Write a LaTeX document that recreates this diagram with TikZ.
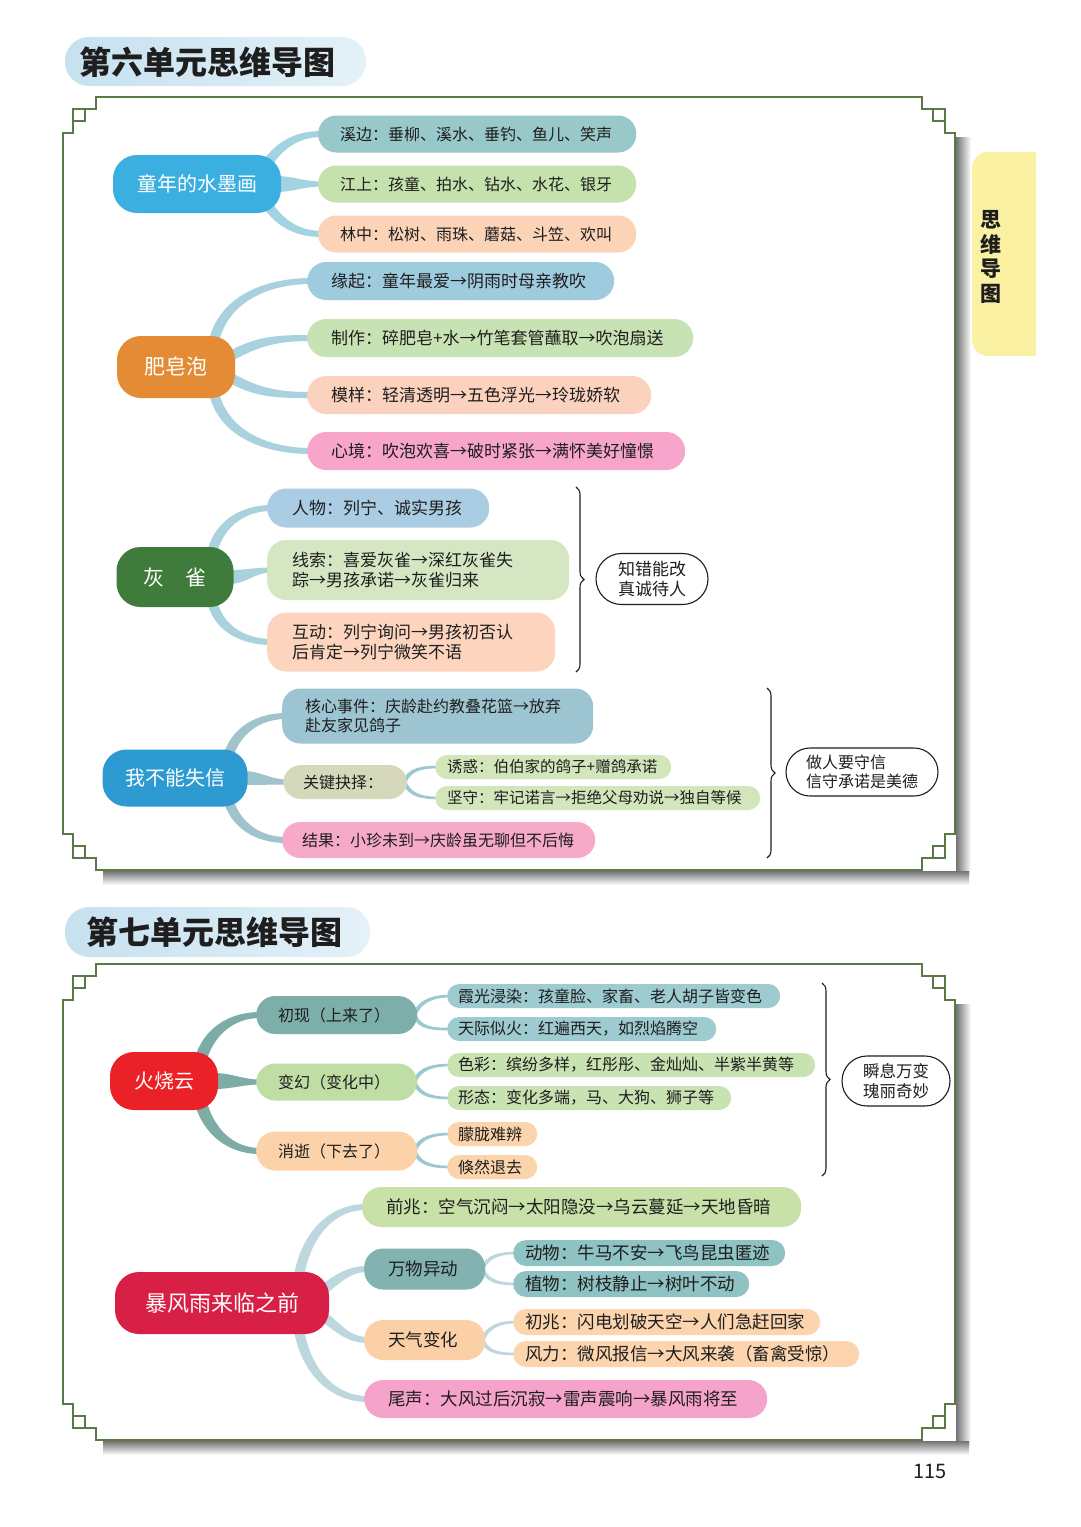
\documentclass[tikz,border=0pt]{standalone}
\usepackage{fontspec}
\setmainfont{Noto Sans CJK SC}
\usetikzlibrary{calc,shapes.misc,decorations.pathreplacing}
\pgfdeclarelayer{back}
\pgfdeclarelayer{bg}
\pgfsetlayers{back,bg,main}
% colours
\definecolor{ttlA}{HTML}{C6E1EF}\definecolor{ttlB}{HTML}{E4F1F8}
\definecolor{tabY}{HTML}{FBF1A3}
\definecolor{frm}{HTML}{5A7A45}
\definecolor{ink}{HTML}{1E1E1E}
\definecolor{rootA}{HTML}{3AAFE0}\definecolor{lA1}{HTML}{98C8CA}\definecolor{lA2}{HTML}{C5E2AD}\definecolor{lA3}{HTML}{FBD3B6}
\definecolor{rootB}{HTML}{E38B35}\definecolor{lB1}{HTML}{9FCBDF}\definecolor{lB2}{HTML}{C8E3B3}\definecolor{lB3}{HTML}{FAD2BE}\definecolor{lB4}{HTML}{F7A5CB}
\definecolor{rootC}{HTML}{3F7B3A}\definecolor{lC1}{HTML}{AACDE4}\definecolor{lC2}{HTML}{D4E6C2}\definecolor{lC3}{HTML}{FDD5BF}
\definecolor{rootD}{HTML}{2E9AD2}\definecolor{lD1}{HTML}{9DC4D1}\definecolor{lD2}{HTML}{D5D8BA}\definecolor{lDs}{HTML}{D3E6BB}\definecolor{lD3}{HTML}{F6AAC8}
\definecolor{rootE}{HTML}{EA2227}\definecolor{mE1}{HTML}{7EAEAA}\definecolor{mE2}{HTML}{BFDEA5}\definecolor{mE3}{HTML}{FBD2A9}
\definecolor{sE1}{HTML}{9ECBD0}\definecolor{sE2}{HTML}{C8E2B2}\definecolor{sE3}{HTML}{FCD4AC}
\definecolor{rootF}{HTML}{D81F45}\definecolor{lF1}{HTML}{C7E1A8}\definecolor{mF2}{HTML}{82B3B1}\definecolor{sF2}{HTML}{8FC2C3}
\definecolor{mF3}{HTML}{FCD0A7}\definecolor{sF3}{HTML}{FCD4AE}\definecolor{lF4}{HTML}{F5A3CA}
\definecolor{twA}{HTML}{A3D3E0}\definecolor{twB}{HTML}{A9D1DE}\definecolor{twC}{HTML}{A9D2DC}\definecolor{twD}{HTML}{9FC4CB}
\definecolor{twE}{HTML}{7DABA6}\definecolor{twEs}{HTML}{9CC8D0}\definecolor{twF}{HTML}{BDD7DF}
% tapered branch: [colour]{start}{end}{out angle}{half width at start}{half width at end}
\newcommand\twig[6][]{%
  \fill[#1] ($(#2)+({#4+90}:#5)$) to[out=#4,in=180] ($(#3)+(4,#6)$) -- ($(#3)+(4,-#6)$) to[out=180,in=#4] ($(#2)+({#4-90}:#5)$) -- cycle;}
\newcommand\mmcorner{%
  \draw[frameline] (-46,0) -- (-33,0) |- (-22,-12) |- (-10,-24) |- (0,-36) -- (0,-46);
  \draw[frameline] (-22,-12) rectangle (-10,-24);}
\newcommand\mmframe[4]{% L R T B
  \shade[left color=black!55, right color=white] (#2+1,#3-40) rectangle (#2+16,#4-4);
  \shade[top color=black!55, bottom color=white] (#1+40,#4-1) rectangle (#2+14,#4-15);
  \draw[frameline] (#1+46,#3) -- (#2-46,#3);
  \draw[frameline] (#2,#3-46) -- (#2,#4+46);
  \draw[frameline] (#1+46,#4) -- (#2-46,#4);
  \draw[frameline] (#1,#3-46) -- (#1,#4+46);
  \begin{scope}[shift={(#2,#3)}]\mmcorner\end{scope}
  \begin{scope}[shift={(#1,#3)},xscale=-1]\mmcorner\end{scope}
  \begin{scope}[shift={(#2,#4)},yscale=-1]\mmcorner\end{scope}
  \begin{scope}[shift={(#1,#4)},xscale=-1,yscale=-1]\mmcorner\end{scope}}
\tikzset{
  frameline/.style={draw=frm, line width=1.8pt},
  mmroot/.style={rectangle, rounded corners=24pt, text=white, inner sep=0pt},
  mmleaf/.style={rectangle, anchor=west, align=left, inner ysep=0pt, text=ink},
  gA/.style={mmleaf, font=\fontsize{16}{20}\selectfont, inner xsep=22pt, minimum height=37pt, rounded corners=18pt},
  gB/.style={mmleaf, font=\fontsize{17}{20}\selectfont, inner xsep=24pt, minimum height=38pt, rounded corners=19pt},
  gC/.style={mmleaf, font=\fontsize{17}{20}\selectfont, inner xsep=25pt, rounded corners=19pt},
  gD/.style={mmleaf, font=\fontsize{16}{19}\selectfont, inner xsep=23pt, rounded corners=18pt},
  gDs/.style={mmleaf, font=\fontsize{15.5}{18}\selectfont, inner xsep=12pt, minimum height=24pt, rounded corners=12pt},
  gEm/.style={mmleaf, font=\fontsize{16}{19}\selectfont, inner xsep=22pt, rounded corners=19pt},
  gEs/.style={mmleaf, font=\fontsize{16}{19}\selectfont, inner xsep=11pt, minimum height=24pt, rounded corners=12pt},
  gF/.style={mmleaf, font=\fontsize{17.5}{21}\selectfont, inner xsep=24pt, rounded corners=19pt},
  gFs/.style={mmleaf, font=\fontsize{17.5}{21}\selectfont, inner xsep=12pt, minimum height=26pt, rounded corners=13pt},
  summ/.style={rounded rectangle, draw=ink, line width=1.1pt, fill=white, align=left, inner sep=0pt, text=ink},
  bracest/.style={draw=ink, line width=1.1pt, decorate, decoration={brace, amplitude=8pt}},
  ttl/.style={font=\fontsize{32}{32}\selectfont\bfseries, inner sep=0pt, anchor=west, text=ink},
}
\begin{document}
\begin{tikzpicture}[x=1pt,y=1pt]
\useasboundingbox (0,0) rectangle (1080,-1527);
\begin{pgfonlayer}{back}
\fill[white] (0,0) rectangle (1080,-1527);
\mmframe{63}{955}{-97}{-870}
\mmframe{63}{955}{-964}{-1440}
\end{pgfonlayer}

% titles
\shade[left color=ttlA, right color=ttlB, rounded corners=24pt] (65,-37) rectangle (366,-86);
\node[ttl] (t1) at (79,-62) {第六单元思维导图};
\shade[left color=ttlA, right color=ttlB, rounded corners=24pt] (65,-907) rectangle (370,-957);
\node[ttl] (t2) at (86,-932) {第七单元思维导图};

% side tab
\fill[tabY, rounded corners=16pt] (972,-152) rectangle (1036,-356);
\fill[tabY] (1010,-152) rectangle (1036,-356);
\node[font=\fontsize{21}{24.5}\selectfont\bfseries, align=center, text=ink, inner sep=0pt] (tab) at (991,-257) {思\\维\\导\\图};

% page number
\node[font=\fontsize{20}{20}\selectfont, text=ink, inner sep=0pt] (pg) at (930,-1471) {115};

% ===== Unit 6 =====
\node[mmroot, fill=rootA, minimum width=168pt, minimum height=58pt, font=\fontsize{20}{20}\selectfont] (r1) at (197,-184) {童年的水墨画};
\node[gA, fill=lA1, text width=274pt] (c11) at (318,-134) {溪边：垂柳、溪水、垂钓、鱼儿、笑声};
\node[gA, fill=lA2, text width=274pt] (c12) at (318,-184) {江上：孩童、拍水、钻水、水花、银牙};
\node[gA, fill=lA3, text width=274pt] (c13) at (318,-234) {林中：松树、雨珠、蘑菇、斗笠、欢叫};

\node[mmroot, fill=rootB, minimum width=118pt, minimum height=62pt, font=\fontsize{21}{21}\selectfont] (r2) at (176,-367) {肥皂泡};
\node[gB, fill=lB1, text width=259pt] (c21) at (307,-281) {缘起：童年最爱→阴雨时母亲教吹};
\node[gB, fill=lB2, text width=338pt] (c22) at (307,-338) {制作：碎肥皂+水→竹笔套管蘸取→吹泡扇送};
\node[gB, fill=lB3, text width=296pt] (c23) at (307,-395) {模样：轻清透明→五色浮光→玲珑娇软};
\node[gB, fill=lB4, text width=330pt] (c24) at (307,-451) {心境：吹泡欢喜→破时紧张→满怀美好憧憬};

\node[mmroot, fill=rootC, minimum width=117pt, minimum height=60pt, font=\fontsize{21}{21}\selectfont] (r3) at (175,-577) {灰　雀};
\node[gC, fill=lC1, text width=172pt, minimum height=39pt] (c31) at (267,-508) {人物：列宁、诚实男孩};
\node[gC, fill=lC2, text width=252pt, minimum height=60pt] (c32) at (267,-570) {线索：喜爱灰雀→深红灰雀失\\踪→男孩承诺→灰雀归来};
\node[gC, fill=lC3, text width=238pt, minimum height=59pt] (c33) at (267,-642) {互动：列宁询问→男孩初否认\\后肯定→列宁微笑不语};
\node[summ, minimum width=112pt, minimum height=51pt, font=\fontsize{17}{20}\selectfont] (s1) at (652,-579) {知错能改\\真诚待人};
\coordinate (b1t) at (576,-487);
\coordinate (b1b) at (576,-672);
\draw[bracest] (b1t) -- (b1b);

\node[mmroot, fill=rootD, minimum width=145pt, minimum height=57pt, font=\fontsize{20}{20}\selectfont] (r4) at (175,-778) {我不能失信};
\node[gD, fill=lD1, text width=265pt, minimum height=55pt] (c41) at (282,-716) {核心事件：庆龄赴约教叠花篮→放弃\\赴友家见鸽子};
\node[gD, fill=lD2, text width=84pt, minimum height=34pt, inner xsep=20pt] (c42) at (283,-782) {关键抉择：};
\node[gD, fill=lD3, text width=273pt, minimum height=36pt, inner xsep=20pt] (c43) at (282,-840) {结果：小珍未到→庆龄虽无聊但不后悔};
\node[gDs, fill=lDs, text width=212pt] (s41) at (435,-767) {诱惑：伯伯家的鸽子+赠鸽承诺};
\node[gDs, fill=lDs, text width=301pt] (s42) at (435,-798) {坚守：牢记诺言→拒绝父母劝说→独自等候};
\node[summ, minimum width=152pt, minimum height=48pt, font=\fontsize{16}{19}\selectfont] (s2) at (862,-772) {做人要守信\\信守承诺是美德};
\coordinate (b2t) at (767,-688);
\coordinate (b2b) at (767,-858);
\draw[bracest] (b2t) -- (b2b);

% ===== Unit 7 =====
\node[mmroot, fill=rootE, minimum width=108pt, minimum height=58pt, font=\fontsize{20}{20}\selectfont] (r5) at (164,-1081) {火烧云};
\node[gEm, fill=mE1, text width=117pt, minimum height=38pt] (m51) at (256,-1015) {初现（上来了）};
\node[gEm, fill=mE2, text width=117pt, minimum height=37pt] (m52) at (256,-1082) {变幻（变化中）};
\node[gEm, fill=mE3, text width=117pt, minimum height=39pt] (m53) at (256,-1151) {消逝（下去了）};
\node[gEs, fill=sE1, text width=311pt] (s511) at (447,-996) {霞光浸染：孩童脸、家畜、老人胡子皆变色};
\node[gEs, fill=sE1, text width=247pt] (s512) at (447,-1029) {天际似火：红遍西天，如烈焰腾空};
\node[gEs, fill=sE2, text width=346pt] (s521) at (447,-1065) {色彩：缤纷多样，红彤彤、金灿灿、半紫半黄等};
\node[gEs, fill=sE2, text width=262pt] (s522) at (447,-1098) {形态：变化多端，马、大狗、狮子等};
\node[gEs, fill=sE3, text width=68pt] (s531) at (447,-1134) {朦胧难辨};
\node[gEs, fill=sE3, text width=68pt] (s532) at (447,-1167) {倏然退去};
\node[summ, minimum width=108pt, minimum height=50pt, font=\fontsize{16.5}{20}\selectfont] (s3) at (896,-1081) {瞬息万变\\瑰丽奇妙};
\coordinate (b3t) at (822,-983);
\coordinate (b3b) at (822,-1176);
\draw[bracest] (b3t) -- (b3b);

\node[mmroot, fill=rootF, minimum width=214pt, minimum height=62pt, font=\fontsize{22}{22}\selectfont] (r6) at (222,-1303) {暴风雨来临之前};
\node[gF, fill=lF1, text width=391pt, minimum height=40pt] (c61) at (362,-1207) {前兆：空气沉闷→太阳隐没→乌云蔓延→天地昏暗};
\node[gF, fill=mF2, text width=73pt, minimum height=41pt] (m62) at (364,-1269) {万物异动};
\node[gF, fill=mF3, text width=73pt, minimum height=40pt] (m63) at (364,-1340) {天气变化};
\node[gF, fill=lF4, text width=355pt, minimum height=38pt] (c64) at (364,-1399) {尾声：大风过后沉寂→雷声震响→暴风雨将至};
\node[gFs, fill=sF2, text width=248pt] (s621) at (513,-1253) {动物：牛马不安→飞鸟昆虫匿迹};
\node[gFs, fill=sF2, text width=212pt] (s622) at (513,-1284) {植物：树枝静止→树叶不动};
\node[gFs, fill=sF3, text width=283pt] (s631) at (513,-1322) {初兆：闪电划破天空→人们急赶回家};
\node[gFs, fill=sF3, text width=322pt] (s632) at (513,-1354) {风力：微风报信→大风来袭（畜禽受惊）};

% ===== branches =====
\begin{pgfonlayer}{bg}
\coordinate (r1a) at ($(r1.east)+(-18,14)$);
\coordinate (r1b) at ($(r1.east)+(-6,0)$);
\coordinate (r1c) at ($(r1.east)+(-18,-14)$);
\twig[twA]{r1a}{c11.west}{60}{5}{3}
\twig[twA]{r1b}{c12.west}{0}{8}{2.5}
\twig[twA]{r1c}{c13.west}{-60}{5}{3}

\coordinate (r2a) at ($(r2.east)+(-22,22)$);
\coordinate (r2b) at ($(r2.east)+(-6,10)$);
\coordinate (r2c) at ($(r2.east)+(-6,-10)$);
\coordinate (r2d) at ($(r2.east)+(-22,-22)$);
\twig[twB]{r2a}{c21.west}{80}{5}{3}
\twig[twB]{r2b}{c22.west}{30}{5}{3}
\twig[twB]{r2c}{c23.west}{-30}{5}{3}
\twig[twB]{r2d}{c24.west}{-80}{5}{3}

\coordinate (r3a) at ($(r3.east)+(-22,22)$);
\coordinate (r3b) at ($(r3.east)+(-4,0)$);
\coordinate (r3c) at ($(r3.east)+(-22,-22)$);
\twig[twC]{r3a}{c31.west}{80}{5}{3}
\twig[twC]{r3b}{c32.west}{0}{7}{2.5}
\twig[twC]{r3c}{c33.west}{-80}{5}{3}

\coordinate (r4a) at ($(r4.east)+(-20,20)$);
\coordinate (r4b) at ($(r4.east)+(-4,0)$);
\coordinate (r4c) at ($(r4.east)+(-20,-20)$);
\twig[twD]{r4a}{c41.west}{75}{5}{3}
\twig[twD]{r4b}{c42.west}{0}{7}{2.5}
\twig[twD]{r4c}{c43.west}{-75}{5}{3}
\coordinate (c42e) at ($(c42.east)+(-3,0)$);
\twig[twEs]{c42e}{s41.west}{70}{2}{1.3}
\twig[twEs]{c42e}{s42.west}{-70}{2}{1.3}

\coordinate (r5a) at ($(r5.east)+(-18,20)$);
\coordinate (r5b) at ($(r5.east)+(-4,0)$);
\coordinate (r5c) at ($(r5.east)+(-18,-20)$);
\twig[twE]{r5a}{m51.west}{75}{6}{3}
\twig[twE]{r5b}{m52.west}{0}{8}{2.5}
\twig[twE]{r5c}{m53.west}{-75}{6}{3}
\coordinate (m51e) at ($(m51.east)+(-3,0)$);
\coordinate (m52e) at ($(m52.east)+(-3,0)$);
\coordinate (m53e) at ($(m53.east)+(-3,0)$);
\twig[twEs]{m51e}{s511.west}{70}{2}{1.3}
\twig[twEs]{m51e}{s512.west}{-70}{2}{1.3}
\twig[twEs]{m52e}{s521.west}{70}{2}{1.3}
\twig[twEs]{m52e}{s522.west}{-70}{2}{1.3}
\twig[twEs]{m53e}{s531.west}{70}{2}{1.3}
\twig[twEs]{m53e}{s532.west}{-70}{2}{1.3}

\coordinate (r6a) at ($(r6.east)+(-30,28)$);
\coordinate (r6b) at ($(r6.east)+(-8,12)$);
\coordinate (r6c) at ($(r6.east)+(-8,-12)$);
\coordinate (r6d) at ($(r6.east)+(-30,-28)$);
\twig[twF]{r6a}{c61.west}{80}{5}{3}
\twig[twF]{r6b}{m62.west}{35}{5}{3}
\twig[twF]{r6c}{m63.west}{-35}{5}{3}
\twig[twF]{r6d}{c64.west}{-80}{5}{3}
\coordinate (m62e) at ($(m62.east)+(-3,0)$);
\coordinate (m63e) at ($(m63.east)+(-3,0)$);
\twig[twF]{m62e}{s621.west}{70}{2}{1.3}
\twig[twF]{m62e}{s622.west}{-70}{2}{1.3}
\twig[twF]{m63e}{s631.west}{70}{2}{1.3}
\twig[twF]{m63e}{s632.west}{-70}{2}{1.3}
\end{pgfonlayer}
\end{tikzpicture}
\end{document}
